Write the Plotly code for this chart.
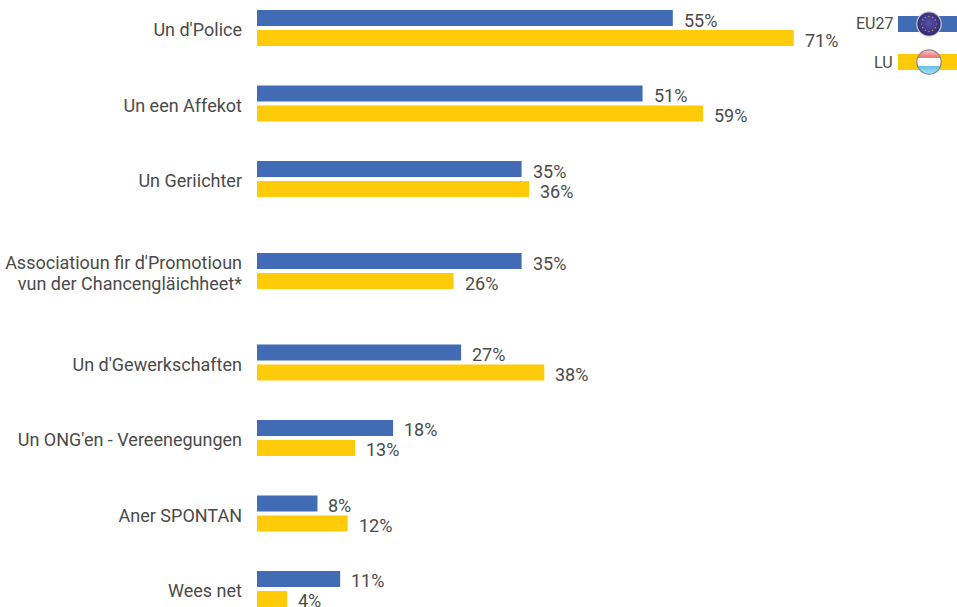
import base64
import plotly.graph_objects as go

categories = ["Un d'Police", "Un een Affekot", "Un Geriichter",
              "Associatioun fir d'Promotioun\nvun der Chancengläichheet*",
              "Un d'Gewerkschaften", "Un ONG'en - Vereenegungen", "Aner SPONTAN", "Wees net"]
eu27 = [55, 51, 35, 35, 27, 18, 8, 11]
lu = [71, 59, 36, 26, 38, 13, 12, 4]
rows = [0, 1, 2, 3.22, 4.43, 5.43, 6.43, 7.43]
series_names = ["EU27", "LU"]

BLUE, YELLOW, GREY = "#416BB4", "#FFCA08", "#4A4A4A"
FONT = "Roboto"
FS = 18
W, H = 957, 607
LEFT = 257
PX_PER_PCT = 7.56
PX_PER_ROW = 75.5
ROW0 = 28
TEXT_DROP = 2  # px, text sits slightly below the bar centre in the reference

tickvals, ticktext = [], []
for r, c in zip(rows, categories):
    parts = c.split("\n")
    for i, p in enumerate(parts):
        tickvals.append(r + ((i - (len(parts) - 1) / 2) * 21 + TEXT_DROP) / PX_PER_ROW)
        ticktext.append(p)

fig = go.Figure()
annos = []
for name, vals, col, side in zip(series_names, [eu27, lu], [BLUE, YELLOW], [-1, 1]):
    fig.add_bar(y=rows, x=vals, orientation="h", name=name, marker=dict(color=col, line_width=0),
                showlegend=False)
    for r, v in zip(rows, vals):
        annos.append(dict(x=v, y=r, xref="x", yref="y", text=f"{v}%", showarrow=False, xanchor="left",
                          yanchor="middle", xshift=9, yshift=-(side * 10 + TEXT_DROP),
                          font=dict(family=FONT, size=FS, color=GREY)))

def svg_uri(svg):
    return "data:image/svg+xml;base64," + base64.b64encode(svg.encode()).decode()

stars = "".join(
    f'<circle cx="{x}" cy="{y}" r="1.5" fill="#E8B030"/>'
    for x, y in [(32,13),(41,15.5),(47.5,22),(50,32),(47.5,41),(41,47.5),(32,50),(23,47.5),(16.5,41),(14,32),(16.5,22),(23,15.5)])
eu_svg = f'''<svg xmlns="http://www.w3.org/2000/svg" width="64" height="64" viewBox="0 0 64 64">
<defs><radialGradient id="g" cx="50%" cy="45%" r="55%"><stop offset="0" stop-color="#5A4FA8"/><stop offset="0.8" stop-color="#37307E"/><stop offset="1" stop-color="#26215C"/></radialGradient></defs>
<circle cx="32" cy="32" r="30" fill="url(#g)" stroke="#C8C8C8" stroke-width="3"/>{stars}</svg>'''
lu_svg = '''<svg xmlns="http://www.w3.org/2000/svg" width="64" height="64" viewBox="0 0 64 64">
<defs><clipPath id="c"><circle cx="32" cy="32" r="30"/></clipPath>
<linearGradient id="r" x1="0" y1="0" x2="0" y2="1"><stop offset="0" stop-color="#FBD5D5"/><stop offset="1" stop-color="#F06A70"/></linearGradient>
<linearGradient id="b" x1="0" y1="0" x2="0" y2="1"><stop offset="0" stop-color="#5DC0F0"/><stop offset="1" stop-color="#B5E3F8"/></linearGradient></defs>
<g clip-path="url(#c)"><rect width="64" height="22" fill="url(#r)"/><rect y="22" width="64" height="20" fill="#FFFFFF"/><rect y="42" width="64" height="22" fill="url(#b)"/></g>
<circle cx="32" cy="32" r="30" fill="none" stroke="#8A8A8A" stroke-width="3"/></svg>'''

y_frac = lambda px: 1 - px / H
shapes, images = [], []
for name, col, cy, svg in zip(series_names, [BLUE, YELLOW], [24, 62], [eu_svg, lu_svg]):
    shapes.append(dict(type="rect", xref="paper", yref="paper", x0=(898 - LEFT) / (W - LEFT), x1=1,
                       y0=y_frac(cy + 8), y1=y_frac(cy - 8), fillcolor=col, line_width=0, layer="below"))
    annos.append(dict(xref="paper", yref="paper", x=(895 - LEFT) / (W - LEFT), y=y_frac(cy), text=name,
                      showarrow=False, xanchor="right", yanchor="middle",
                      font=dict(family=FONT, size=16, color=GREY)))
    images.append(dict(source=svg_uri(svg), xref="paper", yref="paper", x=(929 - LEFT) / (W - LEFT),
                       y=y_frac(cy), sizex=26 / (W - LEFT), sizey=26 / H, xanchor="center",
                       yanchor="middle", layer="above"))

fig.update_layout(
    width=W, height=H, autosize=False, margin=dict(l=LEFT, r=0, t=0, b=0, autoexpand=False),
    paper_bgcolor="white", plot_bgcolor="white", barmode="group", bargap=0.47, bargroupgap=0.2,
    shapes=shapes, annotations=annos, images=images, showlegend=False,
    xaxis=dict(range=[0, (W - LEFT) / PX_PER_PCT], visible=False, automargin=False),
    yaxis=dict(range=[(H - ROW0) / PX_PER_ROW, -ROW0 / PX_PER_ROW], tickmode="array", tickvals=tickvals,
               ticktext=ticktext, showgrid=False, zeroline=False, showline=False, automargin=False,
               ticks="", ticklabelstandoff=14, tickfont=dict(family=FONT, size=FS, color=GREY)),
)
fig.write_html("out.html", config=dict(displayModeBar=False),
               post_script="document.body.style.margin='0';document.body.style.overflow='hidden';")
